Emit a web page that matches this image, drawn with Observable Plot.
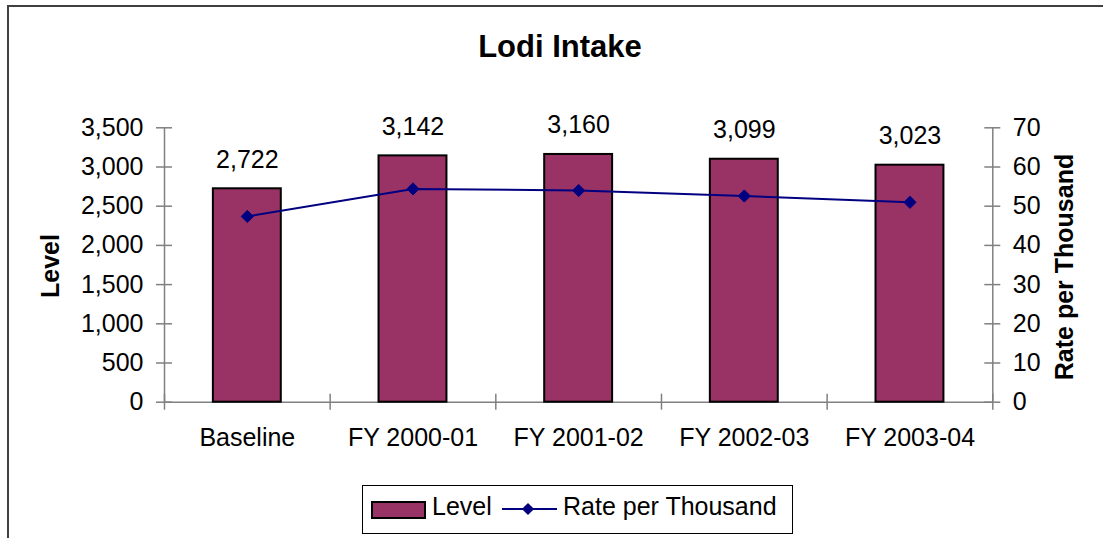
<!DOCTYPE html>
<html><head><meta charset="utf-8">
<script src="https://cdn.jsdelivr.net/npm/d3@7"></script>
<script src="https://cdn.jsdelivr.net/npm/@observablehq/plot@0.6"></script>
<style>
body{margin:0;background:#fff;font-family:"Liberation Sans",Arial,sans-serif;}
#wrap{position:relative;width:1103px;height:538px;overflow:hidden;background:#fff;}
#border{position:absolute;left:7px;top:5px;width:2000px;height:2000px;border-left:2px solid #404040;border-top:2px solid #404040;}
#title{position:absolute;left:0;width:1120px;top:31px;text-align:center;font-weight:bold;font-size:31px;line-height:31px;color:#000;}
.ylab{position:absolute;font-weight:bold;font-size:25px;line-height:25px;white-space:nowrap;transform:translate(-50%,-50%) rotate(-90deg);color:#000;}
#chart{position:absolute;left:0;top:0;}
#legend{position:absolute;left:362px;top:485px;}
</style></head><body>
<div id="wrap">
<div id="border"></div>
<div id="title">Lodi Intake</div>
<div id="chart"></div>
<div class="ylab" style="left:50px;top:266px">Level</div>
<div class="ylab" style="left:1064px;top:267px">Rate per Thousand</div>
<svg id="legend" width="432" height="50"></svg>
</div>
<script>
const categories = ["Baseline", "FY 2000-01", "FY 2001-02", "FY 2002-03", "FY 2003-04"];
const levels = [2722, 3142, 3160, 3099, 3023];
const rates = [47.4, 54.4, 54.0, 52.6, 51.0];
const levelTicks = [0, 500, 1000, 1500, 2000, 2500, 3000, 3500];
const rateTicks = [0, 10, 20, 30, 40, 50, 60, 70];
const seriesNames = ["Level", "Rate per Thousand"];

const BAR = "#993366", LINE = "#000080", AXIS = "#808080";
const FONT = "'Liberation Sans', Arial, sans-serif";
const W = 1103, H = 470;
const plotLeft = 164, plotRight = 992.3, plotTop = 127.3, plotBottom = 401.7;
const n = categories.length;
const idx = d3.range(n);
const yMax = levelTicks[levelTicks.length - 1];
const K = yMax / rateTicks[rateTicks.length - 1];
const pxY = (plotBottom - plotTop) / yMax;
const pxX = (plotRight - plotLeft) / n;
const tY = 8 / pxY, tX = 8 / pxX;
const xA = -0.5, xB = n - 0.5;
const boundaries = d3.range(n + 1).map(i => i - 0.5);
const fmt = d3.format(",");

const chart = Plot.plot({
  width: W, height: H,
  marginLeft: plotLeft, marginRight: W - plotRight, marginTop: plotTop, marginBottom: H - plotBottom,
  style: {fontFamily: FONT, fontSize: "25px", color: "#000", background: "transparent", overflow: "visible"},
  x: {type: "linear", domain: [xA, xB]},
  y: {type: "linear", domain: [0, yMax]},
  marks: [
    Plot.ruleX([xA, xB], {x: d => d, y1: () => 0, y2: () => yMax, stroke: AXIS, strokeWidth: 1.5}),
    Plot.ruleY([0], {y: d => d, x1: () => xA, x2: () => xB, stroke: AXIS, strokeWidth: 1.5}),
    Plot.ruleY(levelTicks, {y: d => d, x1: () => xA - tX, x2: () => xA + tX, stroke: AXIS, strokeWidth: 1.5}),
    Plot.ruleY(rateTicks.map(r => r * K), {y: d => d, x1: () => xB - tX, x2: () => xB + tX, stroke: AXIS, strokeWidth: 1.5}),
    Plot.ruleX(boundaries, {x: d => d, y1: () => -tY, y2: () => tY, stroke: AXIS, strokeWidth: 1.5}),
    Plot.rectY(idx, {x1: i => i - 0.205, x2: i => i + 0.205, y1: () => 0, y2: i => levels[i], fill: BAR, stroke: "#000", strokeWidth: 2}),
    Plot.line(idx, {x: i => i, y: i => rates[i] * K, stroke: LINE, strokeWidth: 2}),
    Plot.dot(idx, {x: i => i, y: i => rates[i] * K, symbol: "diamond2", r: 5.5, fill: LINE, stroke: LINE, strokeWidth: 1}),
    Plot.text(idx, {x: i => i, y: i => levels[i], text: i => fmt(levels[i]), dy: -29, fontSize: 25, fill: "#000"}),
    Plot.axisX({ticks: idx, tickFormat: i => categories[i], tickSize: 0, tickPadding: 26, label: null, fontSize: 25}),
    Plot.axisY({anchor: "left", ticks: levelTicks, tickFormat: fmt, tickSize: 0, tickPadding: 21, label: null, fontSize: 25}),
    Plot.axisY({anchor: "right", ticks: rateTicks.map(r => r * K), tickFormat: v => String(Math.round(v / K)), tickSize: 0, tickPadding: 20, label: null, fontSize: 25})
  ]
});
document.getElementById("chart").appendChild(chart);

// legend
const lg = d3.select("#legend");
lg.append("rect").attr("x", 0.5).attr("y", 0.5).attr("width", 430).attr("height", 48).attr("fill", "#fff").attr("stroke", "#000").attr("stroke-width", 1);
lg.append("rect").attr("x", 10).attr("y", 17).attr("width", 53).attr("height", 16).attr("fill", BAR).attr("stroke", "#000").attr("stroke-width", 2);
lg.append("text").attr("x", 70).attr("y", 30).attr("font-family", FONT).attr("font-size", 25).text(seriesNames[0]);
lg.append("line").attr("x1", 140).attr("x2", 195).attr("y1", 24).attr("y2", 24).attr("stroke", LINE).attr("stroke-width", 2);
lg.append("path").attr("d", d3.symbol(d3.symbolDiamond2, Math.PI * 5.5 * 5.5)()).attr("transform", "translate(166,24)").attr("fill", LINE);
lg.append("text").attr("x", 201).attr("y", 30).attr("font-family", FONT).attr("font-size", 25).text(seriesNames[1]);
</script>
</body></html>
